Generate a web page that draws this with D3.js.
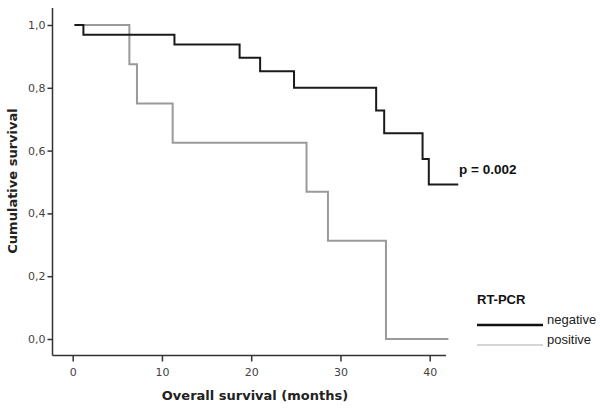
<!DOCTYPE html>
<html><head><meta charset="utf-8">
<script src="https://cdn.jsdelivr.net/npm/d3@7"></script>
<style>body{margin:0;background:#fff}svg{display:block}</style>
</head><body><svg id="c" width="600" height="408"></svg>
<script>
// Kaplan-Meier step data (time in months, survival)
const negTimes = [0.2, 1.2, 11.4, 18.7, 21.0, 24.8, 34.0, 34.9, 39.2, 39.9, 43.2];
const negSurv  = [1.0, 0.969, 0.938, 0.896, 0.853, 0.800, 0.728, 0.655, 0.573, 0.492, 0.492];
const posTimes = [0.2, 6.35, 7.2, 11.2, 26.2, 28.6, 35.1, 42.1];
const posSurv  = [1.0, 0.875, 0.75, 0.625, 0.469, 0.313, 0.0, 0.0];
const xTicks = [0, 10, 20, 30, 40];
const yTicks = [0, 0.2, 0.4, 0.6, 0.8, 1.0];
const legendLabels = ["negative", "positive"];

const svg = d3.select("#c");
const x = d3.scaleLinear().domain([0, 40]).range([72.7, 429.7]);
const y = d3.scaleLinear().domain([0, 1]).range([339, 25]);

const axisColor = "#333";
// Y axis
const yAxis = svg.append("g").attr("transform", "translate(52.5,0)")
  .call(d3.axisLeft(y).tickValues(yTicks).tickSize(5).tickFormat(d => d3.format(".1f")(d).replace(".", ",")));
yAxis.select(".domain").attr("d", "M0,8V355.5").attr("stroke", axisColor).attr("stroke-width", 1.5);
yAxis.selectAll(".tick line").attr("stroke", axisColor).attr("stroke-width", 1.5);
yAxis.selectAll(".tick text").attr("font-family", "DejaVu Sans").attr("font-size", 11).attr("fill", "#444").attr("x", -7);

// X axis
const xAxis = svg.append("g").attr("transform", "translate(0,355.5)")
  .call(d3.axisBottom(x).tickValues(xTicks).tickSize(6).tickFormat(d3.format("d")));
xAxis.select(".domain").attr("d", "M52.5,0H446").attr("stroke", axisColor).attr("stroke-width", 1.5);
xAxis.selectAll(".tick line").attr("stroke", axisColor).attr("stroke-width", 1.5);
xAxis.selectAll(".tick text").attr("font-family", "DejaVu Sans").attr("font-size", 11).attr("fill", "#444").attr("dy", "1.05em");

// Axis titles
svg.append("text").attr("x", 255).attr("y", 400).attr("text-anchor", "middle")
  .attr("font-family", "DejaVu Sans").attr("font-weight", "bold").attr("font-size", 13).attr("fill", "#222")
  .text("Overall survival (months)");
svg.append("text").attr("transform", "translate(17,181) rotate(-90)").attr("text-anchor", "middle")
  .attr("font-family", "DejaVu Sans").attr("font-weight", "bold").attr("font-size", 13).attr("fill", "#222")
  .text("Cumulative survival");

// Curves
const line = d3.line().x(d => x(d[0])).y(d => y(d[1])).curve(d3.curveStepAfter);
const posData = posTimes.map((t, i) => [t, posSurv[i]]);
const negData = negTimes.map((t, i) => [t, negSurv[i]]);
svg.append("path").datum(posData).attr("d", line).attr("fill", "none").attr("stroke", "#9a9a9a").attr("stroke-width", 2);
svg.append("path").datum(negData).attr("d", line).attr("fill", "none").attr("stroke", "#1a1a1a").attr("stroke-width", 2);

// p-value
svg.append("text").attr("x", 459).attr("y", 174)
  .attr("font-family", "Liberation Sans Narrow, Liberation Sans").attr("font-weight", "bold").attr("font-size", 13.5).attr("fill", "#111")
  .text("p = 0.002");

// Legend
svg.append("text").attr("x", 477).attr("y", 304)
  .attr("font-family", "Liberation Sans").attr("font-weight", "bold").attr("font-size", 13).attr("fill", "#111")
  .text("RT-PCR");
const legY = [325, 345];
const legStroke = ["#111", "#aaa"];
const legW = [2.5, 1];
legendLabels.forEach((lab, i) => {
  svg.append("line").attr("x1", 477).attr("x2", 543).attr("y1", legY[i]).attr("y2", legY[i])
    .attr("stroke", legStroke[i]).attr("stroke-width", legW[i]);
  svg.append("text").attr("x", 547).attr("y", legY[i] - 1)
    .attr("font-family", "Liberation Sans").attr("font-size", 13).attr("fill", "#222").text(lab);
});
</script></body></html>
